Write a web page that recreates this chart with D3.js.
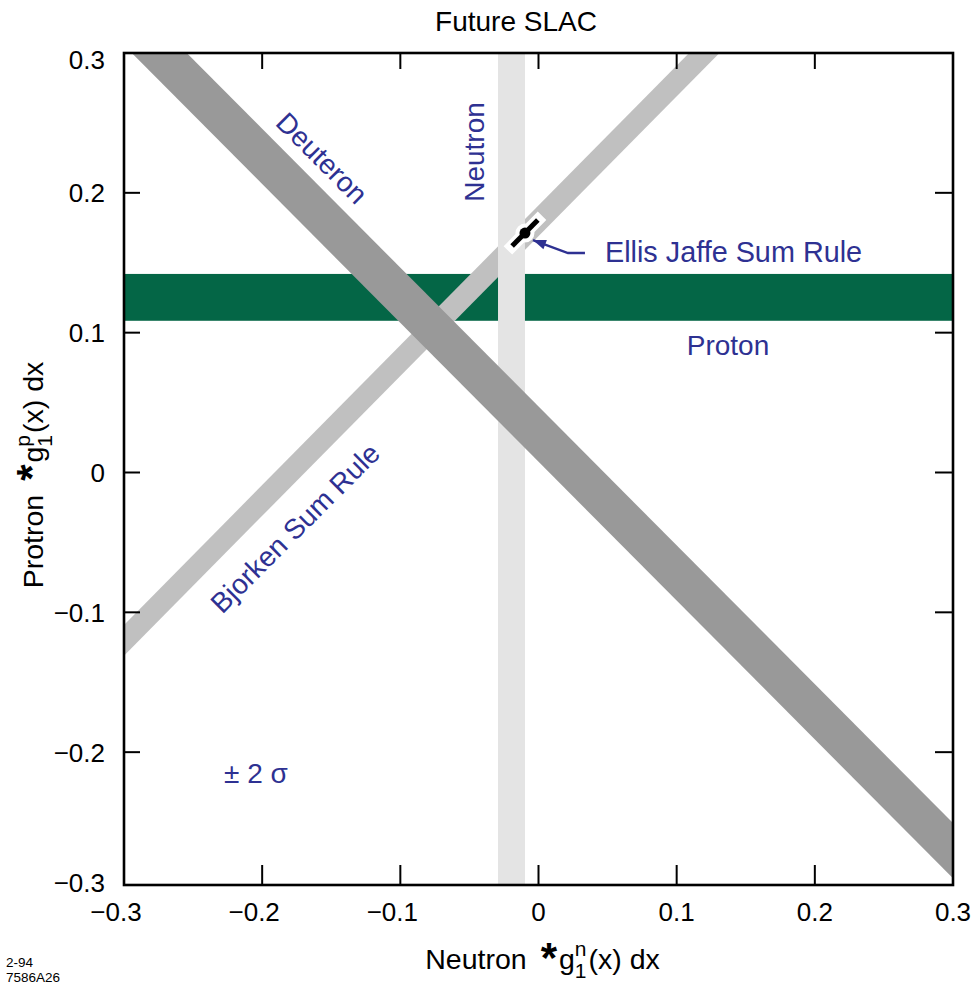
<!DOCTYPE html>
<html>
<head>
<meta charset="utf-8">
<script src="https://cdn.jsdelivr.net/npm/d3@7"></script>
<style>
  html, body { margin: 0; padding: 0; background: #fff; }
  svg { display: block; font-family: "Liberation Sans", Arial, Helvetica, sans-serif; }
</style>
</head>
<body>
<svg id="chart" width="980" height="985"></svg>
<script>
// ---- data (first moments of g1: neutron on x, proton on y) ----
const xDomain = [-0.3, 0.3];
const yDomain = [-0.295, 0.3];           // lower frame edge sits just above -0.3
const xTicks = [-0.3, -0.2, -0.1, 0, 0.1, 0.2, 0.3];
const yTicks = [-0.3, -0.2, -0.1, 0, 0.1, 0.2, 0.3];

// horizontal proton band: Γp range
const protonBand = [0.1085, 0.142];
// vertical neutron band: Γn range
const neutronBand = [-0.0293, -0.0098];
// diagonal bands written as p = intercept + slope * n
const bjorkenSlope = 1.0;
const bjorkenIntercepts = [0.169, 0.191];
const deuteronSlope = -0.993;
const deuteronIntercepts = [0.0077, 0.0472];
// Ellis–Jaffe prediction with its error along the Bjorken line
const ellisJaffePoint = [-0.0098, 0.1712];
const ellisJaffeErr = 0.0093;

// ---- layout ----
const svg = d3.select("#chart");
const plot = { left: 124, right: 953, top: 53, bottom: 885 };
const x = d3.scaleLinear().domain(xDomain).range([plot.left, plot.right]);
const y = d3.scaleLinear().domain(yDomain).range([plot.bottom, plot.top]).clamp(true);

const BLUE = "#2e3192";
const fmt = v => (v < 0 ? "\u2212" : "") + (v === 0 ? "0" : d3.format(".1f")(Math.abs(v)));

svg.append("defs").append("clipPath").attr("id", "plotClip")
  .append("rect")
  .attr("x", plot.left).attr("y", plot.top)
  .attr("width", plot.right - plot.left).attr("height", plot.bottom - plot.top);

const bands = svg.append("g").attr("clip-path", "url(#plotClip)");

// proton band
bands.append("rect")
  .attr("x", x(xDomain[0])).attr("width", x(xDomain[1]) - x(xDomain[0]))
  .attr("y", y(protonBand[1])).attr("height", y(protonBand[0]) - y(protonBand[1]))
  .attr("fill", "#046646");

// diagonal band polygon between two parallel lines
function diagBand(slope, [lo, hi]) {
  const n0 = -0.6, n1 = 0.6;
  const pts = [[n0, lo + slope * n0], [n1, lo + slope * n1], [n1, hi + slope * n1], [n0, hi + slope * n0]];
  const yy = d3.scaleLinear().domain(yDomain).range([plot.bottom, plot.top]); // unclamped
  return "M" + pts.map(([n, p]) => [x(n), yy(p)].join(",")).join("L") + "Z";
}

bands.append("path").attr("d", diagBand(bjorkenSlope, bjorkenIntercepts)).attr("fill", "#c0c0c0");

// neutron band
bands.append("rect")
  .attr("x", x(neutronBand[0])).attr("width", x(neutronBand[1]) - x(neutronBand[0]))
  .attr("y", plot.top).attr("height", plot.bottom - plot.top)
  .attr("fill", "#e4e4e4");

bands.append("path").attr("d", diagBand(deuteronSlope, deuteronIntercepts)).attr("fill", "#999999");

// ---- frame and ticks ----
const axes = svg.append("g").attr("stroke", "#000").attr("fill", "none");
axes.append("rect")
  .attr("x", plot.left).attr("y", plot.top)
  .attr("width", plot.right - plot.left).attr("height", plot.bottom - plot.top)
  .attr("stroke-width", 2.6);

const inner = xTicks.slice(1, -1);
const innerY = yTicks.slice(1, -1);
axes.selectAll(".tb").data(inner).join("line")
  .attr("x1", d => x(d)).attr("x2", d => x(d))
  .attr("y1", plot.bottom).attr("y2", plot.bottom - 20).attr("stroke-width", 2);
axes.selectAll(".tt").data(inner).join("line")
  .attr("x1", d => x(d)).attr("x2", d => x(d))
  .attr("y1", plot.top).attr("y2", plot.top + 16).attr("stroke-width", 2);
axes.selectAll(".tl").data(innerY).join("line")
  .attr("y1", d => y(d)).attr("y2", d => y(d))
  .attr("x1", plot.left).attr("x2", plot.left + 16).attr("stroke-width", 2);
axes.selectAll(".tr").data(innerY).join("line")
  .attr("y1", d => y(d)).attr("y2", d => y(d))
  .attr("x1", plot.right).attr("x2", plot.right - 18).attr("stroke-width", 2);

// tick labels
const tickFont = 26;
svg.append("g").selectAll("text").data(xTicks).join("text")
  .attr("x", d => x(d)).attr("y", plot.bottom + 36)
  .attr("dx", d => d < 0 ? -8 : 0)
  .attr("text-anchor", "middle").attr("font-size", tickFont).attr("fill", "#000")
  .text(fmt);
svg.append("g").selectAll("text").data(yTicks).join("text")
  .attr("x", plot.left - 19)
  .attr("y", d => Math.min(Math.max(y(d), plot.top + 7), plot.bottom - 2))
  .attr("dy", "0.36em")
  .attr("text-anchor", "end").attr("font-size", tickFont).attr("fill", "#000")
  .text(fmt);

// ---- Ellis–Jaffe point ----
const ej = svg.append("g");
const [ejn, ejp] = ellisJaffePoint;
const ejA = [x(ejn - ellisJaffeErr), y(ejp - ellisJaffeErr * bjorkenSlope)];
const ejB = [x(ejn + ellisJaffeErr), y(ejp + ellisJaffeErr * bjorkenSlope)];
ej.append("line").attr("x1", ejA[0]).attr("y1", ejA[1]).attr("x2", ejB[0]).attr("y2", ejB[1])
  .attr("stroke", "#fff").attr("stroke-width", 12).attr("stroke-linecap", "square");
ej.append("circle").attr("cx", x(ejn)).attr("cy", y(ejp)).attr("r", 9.5).attr("fill", "#fff");
ej.append("line").attr("x1", ejA[0]).attr("y1", ejA[1]).attr("x2", ejB[0]).attr("y2", ejB[1])
  .attr("stroke", "#000").attr("stroke-width", 5);
ej.append("circle").attr("cx", x(ejn)).attr("cy", y(ejp)).attr("r", 5.5).attr("fill", "#000");

// arrow from the label to the point
const tip = [x(ejn) + 8, y(ejp) + 7];
const elbow = [tip[0] + 35, tip[1] + 13];
const tail = [elbow[0] + 17, elbow[1]];
svg.append("path")
  .attr("d", `M${tail}L${elbow}L${tip}`)
  .attr("fill", "none").attr("stroke", BLUE).attr("stroke-width", 2.5);
{
  const ang = Math.atan2(tip[1] - elbow[1], tip[0] - elbow[0]);
  const L = 13, W = 5;
  const bx = tip[0] - L * Math.cos(ang), by = tip[1] - L * Math.sin(ang);
  const px = -Math.sin(ang) * W, py = Math.cos(ang) * W;
  svg.append("path")
    .attr("d", `M${tip}L${bx + px},${by + py}L${bx - px},${by - py}Z`)
    .attr("fill", BLUE);
}

// ---- band labels ----
const lab = svg.append("g").attr("fill", BLUE).attr("font-size", 28);
lab.append("text").attr("x", tail[0] + 20).attr("y", tail[1] + 9)
  .attr("font-size", 28.8).text("Ellis Jaffe Sum Rule");
lab.append("text").attr("x", 728).attr("y", 355).attr("text-anchor", "middle").text("Proton");
lab.append("text").attr("transform", "translate(484,152) rotate(-90)")
  .attr("text-anchor", "middle").text("Neutron");
lab.append("text").attr("transform", "translate(322,158) rotate(45)")
  .attr("text-anchor", "middle").attr("dy", "0.35em").text("Deuteron");
lab.append("text").attr("transform", "translate(295,528) rotate(-45)")
  .attr("text-anchor", "middle").attr("dy", "0.35em").text("Bjorken Sum Rule");
lab.append("text").attr("x", 224).attr("y", 783).text("\u00B1 2 \u03C3");

// ---- title ----
svg.append("text").attr("x", 516).attr("y", 31).attr("text-anchor", "middle")
  .attr("font-size", 28).attr("fill", "#000").text("Future SLAC");

// ---- axis titles built from pieces (asterisk, g with sub/superscript) ----
function richTitle(parent, parts) {
  const g = parent.append("g").attr("fill", "#000");
  let cx = 0;
  parts.forEach(p => {
    cx += p.gap || 0;
    if (p.sup !== undefined) {
      const a = g.append("text").attr("x", cx).attr("y", -13).attr("font-size", p.size).text(p.sup);
      const b = g.append("text").attr("x", cx).attr("y", 9).attr("font-size", p.size).text(p.sub);
      cx += Math.max(a.node().getComputedTextLength(), b.node().getComputedTextLength());
    } else {
      const t = g.append("text").attr("x", cx).attr("y", p.shift || 0)
        .attr("font-size", p.size).attr("font-weight", p.weight || "normal").text(p.t);
      cx += t.node().getComputedTextLength();
    }
  });
  g.selectAll("text").attr("transform", `translate(${-cx / 2},0)`);
  return g;
}
const xTitle = svg.append("g").attr("transform", `translate(${(plot.left + plot.right) / 2 + 4},969)`);
richTitle(xTitle, [
  { t: "Neutron", size: 28.5 },
  { t: "*", size: 42, weight: "bold", shift: 3, gap: 14 },
  { t: "g", size: 28.5, gap: 2 },
  { sup: "n", sub: "1", size: 21 },
  { t: "(x) dx", size: 28.5, gap: 2 }
]);
const yTitle = svg.append("g").attr("transform", `translate(43,${(plot.top + plot.bottom) / 2 + 6}) rotate(-90)`);
richTitle(yTitle, [
  { t: "Protron", size: 28.5 },
  { t: "*", size: 42, weight: "bold", shift: 3, gap: 14 },
  { t: "g", size: 28.5, gap: 2 },
  { sup: "p", sub: "1", size: 21 },
  { t: "(x) dx", size: 28.5, gap: 2 }
]);

// ---- figure codes ----
const code = svg.append("g").attr("font-size", 13.5).attr("fill", "#000");
code.append("text").attr("x", 6).attr("y", 967).text("2-94");
code.append("text").attr("x", 6).attr("y", 982).text("7586A26");
</script>
</body>
</html>
